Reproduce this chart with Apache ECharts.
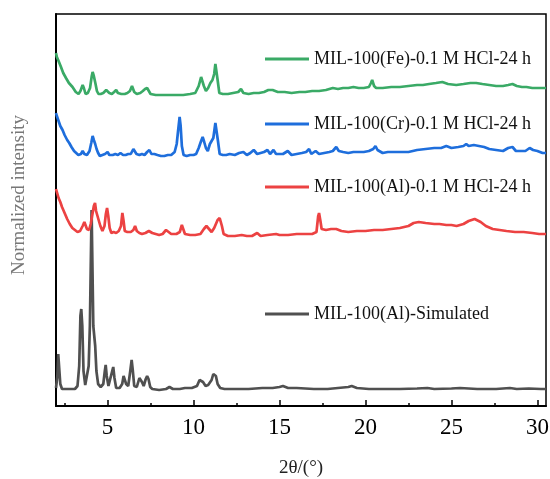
<!DOCTYPE html>
<html>
<head>
<meta charset="utf-8">
<script src="https://cdn.jsdelivr.net/npm/echarts@6/dist/echarts.min.js"></script>
<style>html,body{margin:0;padding:0;background:#fff;}#c{width:550px;height:479px;}</style>
</head>
<body>
<div id="c"></div>
<script>
var seriesNames = ['MIL-100(Fe)-0.1 M HCl-24 h','MIL-100(Cr)-0.1 M HCl-24 h','MIL-100(Al)-0.1 M HCl-24 h','MIL-100(Al)-Simulated'];
var xTicks = [5,10,15,20,25,30];
var xMinorTicks = [2.5,7.5,12.5,17.5,22.5,27.5];

var simulated = [[2.0,18],[2.08,30],[2.13,52],[2.18,50],[2.25,22],[2.35,17],[2.6,17],[2.9,17],[3.1,17],[3.25,20],[3.35,40],[3.42,90],[3.47,97],[3.53,80],[3.6,35],[3.7,21],[3.8,20],[3.9,40],[3.97,80],[4.03,150],[4.07,196],[4.11,150],[4.17,80],[4.22,78],[4.28,60],[4.35,35],[4.45,22],[4.6,19],[4.75,22],[4.84,35],[4.89,41],[4.95,30],[5.05,20],[5.15,22],[5.27,35],[5.33,39],[5.4,28],[5.5,18],[5.7,18],[5.85,22],[5.93,30],[6.0,30],[6.08,22],[6.2,20],[6.32,35],[6.4,46],[6.47,35],[6.55,20],[6.7,19],[6.85,28],[6.92,30],[7.0,24],[7.1,20],[7.22,27],[7.3,30],[7.38,27],[7.48,19],[7.6,17],[8.0,16],[8.4,17],[8.6,19],[8.8,17],[9.2,17],[9.5,18],[9.9,18],[10.2,20],[10.35,26],[10.45,28],[10.55,24],[10.7,20],[10.85,21],[11.05,26],[11.15,32],[11.22,34],[11.3,30],[11.4,22],[11.55,18],[11.8,17],[12.5,17],[13.2,17],[14,18],[14.6,18],[15.0,19],[15.2,20],[15.5,18],[16,18],[17,17],[17.8,17],[18.4,18],[19.0,19],[19.2,20],[19.5,18],[20.2,17],[21,17],[22,17],[23,17.5],[23.6,18],[24,17],[25,17.5],[25.5,18],[26.5,17],[27.6,17],[28.4,18],[28.8,17],[29.5,17.5],[30.2,17],[30.5,17]];

var alHCl = [[2.0,217],[2.05,214],[2.15,208],[2.25,204],[2.35,199],[2.45,195],[2.55,191],[2.65,187],[2.8,182],[2.95,178],[3.1,176],[3.25,174],[3.4,175],[3.55,180],[3.65,184],[3.72,182],[3.8,177],[3.92,176],[4.02,182],[4.12,192],[4.2,200],[4.27,203],[4.33,195],[4.4,193],[4.48,186],[4.58,180],[4.7,175],[4.82,180],[4.9,192],[4.97,198],[5.04,190],[5.12,178],[5.22,173],[5.35,174],[5.5,173],[5.65,175],[5.78,180],[5.86,193],[5.93,185],[6.0,175],[6.15,174],[6.35,174],[6.5,176],[6.6,180],[6.7,175],[6.85,173],[7.0,172],[7.2,173],[7.4,175],[7.5,177],[7.6,173],[7.8,172],[8.0,171],[8.2,172],[8.4,176],[8.5,174],[8.7,172],[9.0,172],[9.2,174],[9.32,181],[9.4,180],[9.5,172],[9.8,171],[10.1,171],[10.4,172],[10.6,177],[10.75,180],[10.9,177],[11.05,174],[11.2,178],[11.4,186],[11.52,188],[11.65,180],[11.75,172],[12.0,170],[12.4,170],[12.8,171],[13.1,170],[13.4,170],[13.7,173],[13.9,170],[14.3,171],[14.8,172],[15.0,171],[15.5,171],[16.0,172],[16.5,172],[16.9,172],[17.15,174],[17.25,190],[17.3,193],[17.38,185],[17.45,177],[17.7,176],[18.0,177],[18.3,177],[18.6,175],[19.0,174],[19.5,175],[20.0,175],[20.5,176],[21.0,176],[21.5,177],[22.0,178],[22.5,180],[22.8,183],[23.1,184],[23.5,183],[24.0,182],[24.3,182],[24.7,181],[25.0,181],[25.3,180],[25.7,182],[26.0,185],[26.35,187],[26.7,184],[27.0,180],[27.4,177],[27.8,176],[28.2,175],[28.7,174],[29.2,174],[29.7,173],[30.1,172],[30.5,172]];

var crHCl = [[2.0,293],[2.05,290],[2.15,285],[2.25,280],[2.38,276],[2.5,271],[2.65,266],[2.77,263],[2.9,259],[3.05,255],[3.16,253],[3.3,251],[3.45,252],[3.55,255],[3.65,252],[3.8,251],[3.95,255],[4.05,263],[4.13,270],[4.2,266],[4.28,262],[4.36,257],[4.45,253],[4.55,250],[4.7,251],[4.85,252],[5.0,254],[5.1,251],[5.3,251],[5.45,252],[5.6,251],[5.75,253],[5.9,251],[6.05,251],[6.2,252],[6.35,252],[6.5,257],[6.58,258],[6.68,252],[6.85,251],[7.0,252],[7.15,251],[7.3,254],[7.43,256],[7.55,252],[7.72,252],[7.9,251],[8.1,250],[8.3,250],[8.5,251],[8.7,251],[8.9,254],[9.02,262],[9.1,275],[9.19,289],[9.25,280],[9.32,260],[9.42,251],[9.6,250],[9.8,251],[10.0,251],[10.15,252],[10.3,258],[10.44,265],[10.53,269],[10.62,264],[10.72,258],[10.83,255],[10.95,262],[11.05,264],[11.15,268],[11.27,283],[11.34,282],[11.42,265],[11.52,252],[11.7,251],[11.9,251],[12.1,252],[12.4,251],[12.65,253],[12.9,254],[13.1,251],[13.3,253],[13.5,256],[13.7,252],[13.9,253],[14.1,254],[14.3,256],[14.45,252],[14.65,256],[14.8,252],[15.0,252],[15.2,252],[15.48,255],[15.7,251],[16.0,252],[16.3,253],[16.55,254],[16.72,257],[16.85,252],[17.1,255],[17.3,252],[17.6,253],[17.9,254],[18.1,255],[18.3,259],[18.45,255],[18.7,254],[19.0,253],[19.3,254],[19.6,254],[19.9,254],[20.2,255],[20.45,257],[20.58,260],[20.7,256],[21.0,253],[21.3,254],[21.7,254],[22.0,254],[22.5,254],[23.0,256],[23.5,257],[24.0,258],[24.4,258],[24.7,260],[25.0,258],[25.4,259],[25.7,260],[25.86,262],[26.0,260],[26.3,261],[26.6,260],[26.9,259],[27.2,257],[27.6,256],[28.0,255],[28.3,258],[28.55,259],[28.75,255],[29.0,255],[29.3,255],[29.55,258],[29.75,256],[30.0,255],[30.3,253],[30.5,253]];

var feHCl = [[2.0,353],[2.05,349],[2.15,345],[2.29,339],[2.42,333],[2.58,328],[2.75,323],[2.96,319],[3.15,314],[3.31,312],[3.42,315],[3.55,321],[3.62,318],[3.72,312],[3.85,313],[3.98,318],[4.08,330],[4.13,334],[4.2,330],[4.3,322],[4.38,315],[4.47,312],[4.6,312],[4.75,313],[4.92,316],[5.0,318],[5.1,313],[5.25,312],[5.38,314],[5.5,316],[5.6,313],[5.8,312],[6.0,312],[6.15,313],[6.3,315],[6.42,320],[6.48,322],[6.55,314],[6.7,312],[6.9,313],[7.05,315],[7.18,317],[7.3,318],[7.4,315],[7.5,312],[7.8,311],[8.2,311],[8.6,311],[9.0,311],[9.4,311],[9.8,312],[10.1,313],[10.3,320],[10.44,329],[10.52,327],[10.6,320],[10.72,315],[10.85,318],[10.98,323],[11.1,326],[11.2,332],[11.27,342],[11.33,340],[11.4,326],[11.5,313],[11.7,312],[12.0,312],[12.3,313],[12.6,314],[12.76,317],[12.9,313],[13.2,312],[13.5,313],[13.8,313],[14.1,314],[14.35,316],[14.6,316],[14.9,314],[15.3,314],[15.7,313],[16.16,314],[16.5,314],[16.9,315],[17.3,315],[17.7,316],[18.1,318],[18.4,317],[18.7,318],[19.0,318],[19.3,319],[19.6,318],[19.9,318],[20.2,319],[20.32,323],[20.39,326],[20.5,320],[20.62,318],[21.0,318],[21.5,319],[22.0,319],[22.5,320],[23.0,321],[23.34,321],[23.7,322],[24.1,323],[24.47,324],[24.8,322],[25.28,321],[25.7,322],[26.1,323],[26.44,323],[26.8,322],[27.2,321],[27.6,320],[28.0,320],[28.3,321],[28.55,322],[28.8,320],[29.1,319],[29.36,319],[29.7,318],[30.0,318],[30.32,318],[30.5,318]];

var colors = {fe:'#3aaa66', cr:'#1e6edc', al:'#ec4242', sim:'#505050'};
var FONT = '"Liberation Serif","Times New Roman",serif';

function mkLegend(name, top, color){
  return {
    data:[{name:name, icon:'rect', itemStyle:{color:color}}],
    left:265, top:top, padding:0, orient:'horizontal',
    itemWidth:44, itemHeight:3, itemGap:0,
    selectedMode:false,
    textStyle:{fontFamily:FONT, fontSize:18, color:'#111', lineHeight:18}
  };
}
function mkSeries(name, data, color){
  return {name:name, type:'line', data:data, showSymbol:false, symbol:'none',
    lineStyle:{width:2.7, color:color}, itemStyle:{color:color}, animation:false, z:2};
}

var chart = echarts.init(document.getElementById('c'), null, {renderer:'canvas'});
chart.setOption({
  animation:false,
  backgroundColor:'#fff',
  grid:{left:56, right:4, top:14, bottom:73, containLabel:false, outerBoundsMode:'none',
    show:true, borderColor:'#000', borderWidth:1.5, backgroundColor:'transparent'},
  legend:[
    mkLegend(seriesNames[0], 50, colors.fe),
    mkLegend(seriesNames[1], 115, colors.cr),
    mkLegend(seriesNames[2], 178, colors.al),
    mkLegend(seriesNames[3], 305, colors.sim)
  ],
  xAxis:[{
    type:'value', min:2, max:30.5,
    name:'2θ/(°)', nameLocation:'middle', nameGap:53,
    nameTextStyle:{fontFamily:FONT, fontSize:19, color:'#222'},
    axisLine:{show:true, onZero:false, lineStyle:{color:'#000', width:2}},
    axisTick:{show:true, inside:true, length:6, customValues:xTicks, lineStyle:{color:'#000', width:1.5}},
    splitLine:{show:false},
    axisLabel:{fontFamily:FONT, fontSize:23, color:'#000', margin:10, customValues:xTicks}
  },{
    type:'value', min:2, max:30.5, position:'bottom',
    axisLine:{show:false, onZero:false},
    axisTick:{show:true, inside:true, length:3, customValues:xMinorTicks, lineStyle:{color:'#000', width:1.5}},
    axisLabel:{show:false}, splitLine:{show:false}
  }],
  yAxis:{
    type:'value', min:0, max:392,
    name:'Normalized intensity', nameLocation:'middle', nameGap:27,
    nameTextStyle:{fontFamily:FONT, fontSize:19, color:'#777', padding:[0,0,0,30]},
    axisLine:{show:true, lineStyle:{color:'#000', width:2}},
    axisTick:{show:false}, axisLabel:{show:false}, splitLine:{show:false}
  },
  series:[
    mkSeries(seriesNames[3], simulated, colors.sim),
    mkSeries(seriesNames[2], alHCl, colors.al),
    mkSeries(seriesNames[1], crHCl, colors.cr),
    mkSeries(seriesNames[0], feHCl, colors.fe)
  ]
});
</script>
</body>
</html>
